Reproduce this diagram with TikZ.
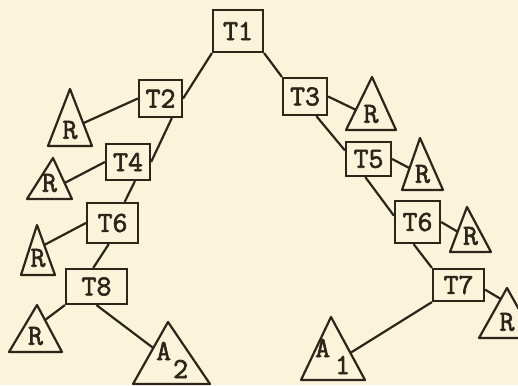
\documentclass[tikz,border=0pt]{standalone}
\usepackage{fontspec}
\usetikzlibrary{calc}
\definecolor{bg}{RGB}{249,244,218}
\definecolor{ink}{RGB}{45,36,26}
\newcommand\mytri[6]{%
  \coordinate (#1a) at (#2,#3);
  \coordinate (#1l) at (#5,#4);
  \coordinate (#1r) at (#6,#4);
  \draw[ln] (#1a) -- (#1l) -- (#1r) -- cycle;}
\newfontfamily\twfont[FakeBold=2.2]{Latin Modern Mono}
\tikzset{
  ln/.style={draw=ink, line width=2.2pt, line join=round},
  tbox/.style={draw=ink, line width=2.2pt, inner sep=0pt, text=ink,
    font=\twfont\fontsize{29}{29}\selectfont},
  lab/.style={inner sep=0pt, text=ink,
    font=\twfont\fontsize{29}{29}\selectfont},
}
\begin{document}
\begin{tikzpicture}[x=1pt,y=-1pt]
\useasboundingbox (0,0) rectangle (518,385);
\fill[bg] (0,0) rectangle (518,385);
\clip (0,0) rectangle (518,385);
% boxes
\node[tbox, minimum width=50pt, minimum height=42pt] (T1) at (238,31) {T1};
\node[tbox, minimum width=43pt, minimum height=37pt] (T2) at (160.5,98.5) {T2};
\node[tbox, minimum width=44pt, minimum height=36pt] (T4) at (128,162) {T4};
\node[tbox, minimum width=51pt, minimum height=40pt] (T6a) at (112.5,223) {T6};
\node[tbox, minimum width=61pt, minimum height=35pt] (T8) at (96.5,286.5) {T8};
\node[tbox, minimum width=44pt, minimum height=37pt] (T3) at (305,96.5) {T3};
\node[tbox, minimum width=45pt, minimum height=34pt] (T5) at (368.5,159) {T5};
\node[tbox, minimum width=45pt, minimum height=42pt] (T6b) at (417.5,222) {T6};
\node[tbox, minimum width=51pt, minimum height=32pt] (T7) at (458.5,285) {T7};
% triangles
\mytri{Rb}{70}{89}{146}{48}{92}
\mytri{Rd}{53}{158}{199}{27}{72}
\mytri{Rf}{37}{225}{275}{21}{55}
\mytri{Rh}{37}{305}{352}{9}{62}
\mytri{Aa}{168}{322}{384}{133}{210}
\mytri{Rc}{372}{77}{130}{346}{396}
\mytri{Re}{420}{138}{190}{402}{443}
\mytri{Rg}{467}{207}{252}{450}{491}
\mytri{Rk}{507}{288}{338}{479}{535}
\mytri{Ab}{331}{317}{380}{301}{365}
% triangle labels
\node[lab] (Rbt) at ($(Rbl)!0.5!(Rbr)+(0,-16)$) {R};
\node[lab] (Rdt) at ($(Rdl)!0.5!(Rdr)+(0,-16)$) {R};
\node[lab] (Rft) at ($(Rfl)!0.5!(Rfr)+(0,-17)$) {R};
\node[lab] (Rht) at ($(Rhl)!0.5!(Rhr)+(0,-16)$) {R};
\node[lab] (Rct) at ($(Rcl)!0.5!(Rcr)+(0,-16)$) {R};
\node[lab] (Ret) at ($(Rel)!0.5!(Rer)+(0,-16)$) {R};
\node[lab] (Rgt) at ($(Rgl)!0.5!(Rgr)+(0,-16)$) {R};
\node[lab] (Rkt) at ($(Rkl)!0.5!(Rkr)+(0,-16)$) {R};
\node[lab, anchor=base west] (Aat) at (156,360) {A\hspace{2pt}\raisebox{-18pt}{2}};
\node[lab, anchor=base west] (Abt) at (315,357) {A\hspace{5pt}\raisebox{-17pt}{1}};
% contact points on triangle sides
\coordinate (Rbc) at ($(Rba)!0.6!(Rbr)$);
\coordinate (Rdc) at ($(Rda)!0.61!(Rdr)$);
\coordinate (Rfc) at ($(Rfa)!0.4!(Rfr)$);
\coordinate (Rhc) at ($(Rha)!0.32!(Rhr)$);
\coordinate (Aac) at ($(Aaa)!0.42!(Aal)$);
\coordinate (Rcc) at ($(Rca)!0.62!(Rcl)$);
\coordinate (Rec) at ($(Rea)!0.58!(Rel)$);
\coordinate (Rgc) at ($(Rga)!0.55!(Rgl)$);
\coordinate (Rkc) at ($(Rka)!0.22!(Rkl)$);
\coordinate (Abc) at ($(Aba)!0.57!(Abr)$);
% connectors
\draw[ln] (T1.south west) -- (T2.east);
\draw[ln] (T2.-60) -- (T4.east);
\draw[ln] (T2.west) -- (Rbc);
\draw[ln] (T4.west) -- (Rdc);
\draw[ln] (T4.-70) -- (T6a.60);
\draw[ln] (T6a.west) -- (Rfc);
\draw[ln] (T6a.-100) -- (T8.100);
\draw[ln] (T8.south west) -- (Rhc);
\draw[ln] (T8.south) -- (Aac);
\draw[ln] (T1.south east) -- (T3.north west);
\draw[ln] (T3.east) -- (Rcc);
\draw[ln] (T3.-60) -- (T5.160);
\draw[ln] (T5.east) -- (Rec);
\draw[ln] (T5.-100) -- (T6b.165);
\draw[ln] (T6b.east) -- (Rgc);
\draw[ln] (T6b.-100) -- (T7.north west);
\draw[ln] (T7.-10) -- (Rkc);
\draw[ln] (T7.south west) -- (Abc);
\end{tikzpicture}
\end{document}
